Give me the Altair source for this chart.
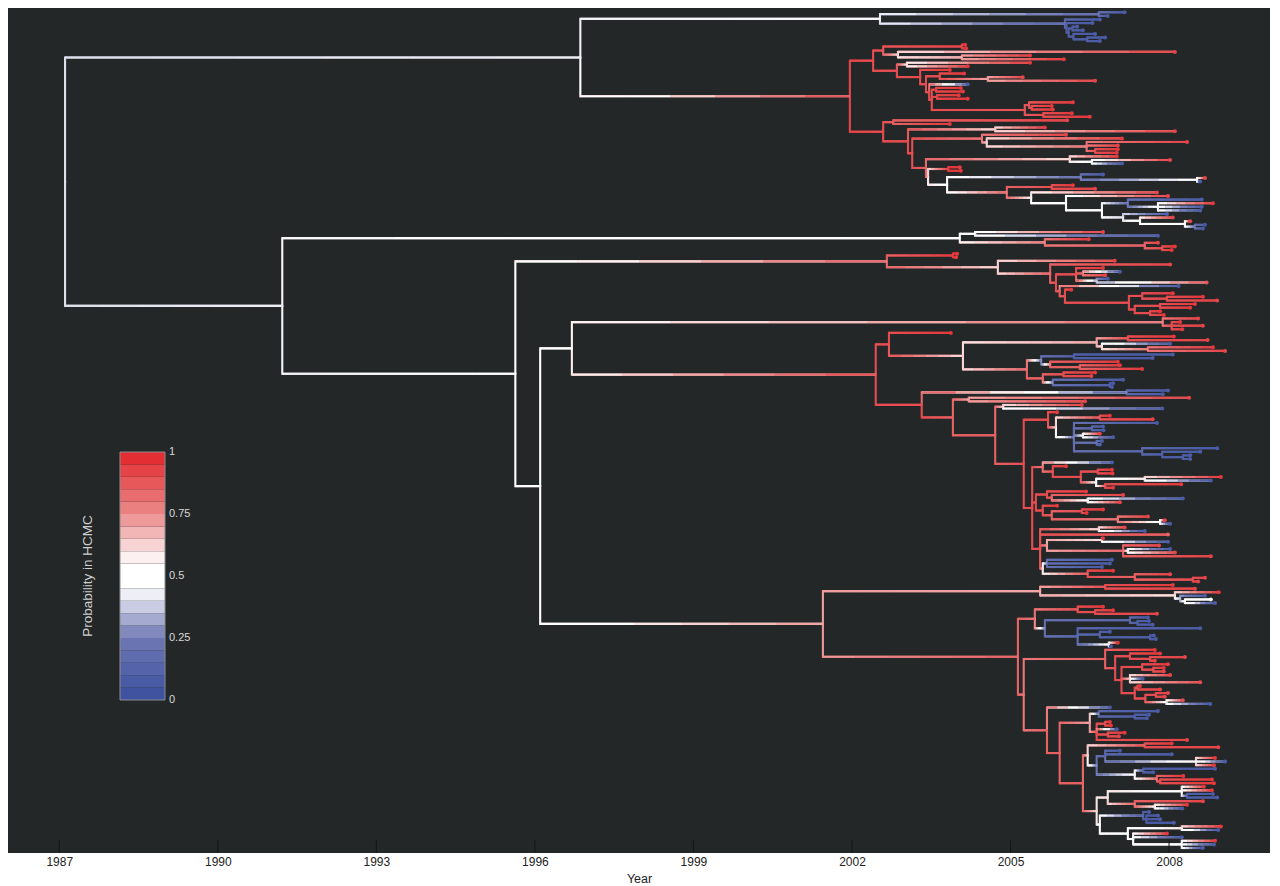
import re
import altair as alt
import pandas as pd

# ---------------- data: clades as "(children)time:prob" (time in years, prob = P(in HCMC)) ----------------
A1 = "((2007.16:0.08,2006.84:0.08)2006.67:0.2,(2006.69:0.08,(2006.55:0.08,((2006.26:0.08,2006.37:0.08)2006.17:0.1,(2006.60:0.08,(2006.79:0.08,2006.69:0.08)2006.45:0.1)2006.19:0.1)2006.10:0.1)2006.06:0.12)2006.03:0.15)2002.53:0.44"
A2A_1 = "((2004.14:0.95,2004.16:0.95)2004.08:0.92,(2008.11:0.92,(2005.37:0.95,2006.01:0.95)2004.08:0.7)2002.87:0.6)2002.59:0.88"
A2A_2 = "((2005.37:0.95,2004.19:0.95)2003.04:0.55,(2003.85:0.95,((2004.12:0.95,(2005.23:0.92,2006.60:0.92)2004.57:0.7)2003.66:0.9,(2004.19:0.08,((2004.06:0.95,2004.10:0.95)2003.59:0.92,(2004.02:0.95,2004.19:0.95)2003.61:0.92,((2006.18:0.95,(2005.78:0.95,2005.80:0.95)2005.40:0.9)2005.35:0.88,(2006.16:0.95,2006.50:0.95)2005.62:0.9)2005.27:0.88)2003.51:0.9)2003.46:0.9)2003.40:0.9)2003.29:0.9)2002.85:0.9"
A2B = "((2006.07:0.92,2003.85:0.95)2002.78:0.85,((2005.65:0.95,2008.11:0.92)2004.71:0.6,((2006.05:0.92,(2007.11:0.95,(2008.34:0.92,2007.03:0.92,(2007.03:0.95,2007.01:0.95)2006.60:0.9)2006.44:0.8)2004.55:0.6)2004.46:0.8,((2007.01:0.95,(2008.02:0.92,2007.11:0.08)2006.54:0.5)2006.12:0.6,((2004.04:0.95,2004.06:0.95)2003.82:0.95,((2006.75:0.08,(2008.68:0.92,2008.59:0.08)2008.53:0.5)2006.33:0.2,((2006.18:0.95,2006.60:0.92)2005.78:0.9,(2007.77:0.92,(2007.98:0.92,((2008.62:0.08,(2008.83:0.95,2008.62:0.08,2008.59:0.08)2007.79:0.5)2007.22:0.2,(2007.96:0.12,(2008.07:0.92,(2008.40:0.92,(2008.68:0.08,2008.64:0.08)2008.49:0.2)2008.30:0.5)2007.45:0.55)2007.13:0.4)2006.73:0.45)2006.05:0.5)2005.39:0.55)2004.93:0.85)2003.80:0.5)2003.44:0.6)2003.40:0.85)2003.14:0.9)2003.06:0.9)2002.59:0.9"
B1 = "((2006.75:0.92,2007.79:0.08)2004.33:0.5,(2006.48:0.95,(2007.79:0.92,(2008.11:0.95,2008.05:0.95)2007.87:0.9)2007.54:0.85)2005.65:0.8)2004.04:0.55"
B2A = "((2003.99:0.95,2003.97:0.95)2003.91:0.95,(2006.97:0.92,(2008.02:0.92,((2006.75:0.95,(2007.07:0.08,2006.79:0.92)2006.37:0.8,(2006.84:0.08,2008.71:0.88)2006.63:0.3)2006.24:0.9,(2008.18:0.08,(2006.15:0.95,((2008.07:0.95,(2008.64:0.95,2008.91:0.92)2007.96:0.9)2007.49:0.9,((2008.49:0.95,2008.40:0.95)2007.83:0.9,(2007.83:0.95,2007.90:0.95)2007.64:0.9)2007.35:0.9)2007.24:0.9)2006.03:0.9)2005.93:0.85)2005.86:0.9)2005.75:0.85)2004.76:0.6)2002.66:0.85"
B2B1_TOP = "(2008.55:0.92,(2008.21:0.95,2008.64:0.92,2008.25:0.95)2008.05:0.9)2007.88:0.8"
C1 = "(2003.87:0.95,(((2008.09:0.95,2008.73:0.92)2007.22:0.9,(2008.02:0.08,(2008.83:0.95,2009.06:0.92)2007.60:0.8)2006.73:0.6)2006.63:0.7,(((2008.07:0.08,2007.69:0.08)2006.20:0.1,(2007.03:0.95,(2007.07:0.95,2007.49:0.95)2006.31:0.85)2005.75:0.85)2005.58:0.2,((2006.60:0.95,2006.53:0.92)2006.00:0.9,(2007.13:0.08,(2006.94:0.08,2006.92:0.08)2006.88:0.1)2005.80:0.2)2005.61:0.85)2005.31:0.85)2004.10:0.6)2002.70:0.9"
D1 = "(2005.88:0.95,((2006.88:0.95,2007.69:0.92)2006.69:0.9,(2007.77:0.08,(2006.75:0.08,2006.76:0.08)2006.54:0.15,(2006.69:0.92,2006.94:0.08)2006.37:0.5,(2006.73:0.08,2006.69:0.12)2006.63:0.2,(2008.91:0.08,(2008.59:0.08,(2008.40:0.08,2008.40:0.08)2008.26:0.1)2007.87:0.1)2007.49:0.15)2006.20:0.2)2005.86:0.6)2005.71:0.9"
D2A = "(2006.92:0.08,(2006.05:0.95,((2006.92:0.95,2006.93:0.95)2006.65:0.9,((2008.98:0.95,2008.79:0.08)2007.54:0.6,(2008.23:0.95,2006.94:0.95)2006.79:0.9)2006.62:0.5)2006.33:0.9)2005.80:0.9)2005.61:0.8"
D2B = "((2006.43:0.95,(2007.13:0.92,(2008.26:0.08,2007.07:0.92)2006.46:0.5)2005.78:0.85)2005.69:0.9,(2005.88:0.95,((2006.75:0.95,2006.44:0.95)2006.35:0.9,(2007.60:0.92,(2007.92:0.92,2008.02:0.08)2007.83:0.5)2007.03:0.8)2005.78:0.85)2005.61:0.9)2005.48:0.9"
D2C = "((2007.16:0.92,2007.54:0.08)2006.67:0.6,2007.98:0.85,((2006.75:0.95,2007.98:0.08)2006.73:0.6,(2007.81:0.92,(2008.02:0.08,2008.11:0.92)2007.22:0.5,2008.79:0.92)2007.13:0.85)2005.69:0.7,((2006.92:0.08,2006.88:0.08,2006.73:0.08)2005.69:0.2,(2006.94:0.95,(2008.02:0.92,(2008.68:0.92,2008.55:0.92)2008.45:0.9)2007.35:0.85)2006.46:0.9)2005.61:0.55)2005.56:0.9"
E1 = "((2008.07:0.95,2008.49:0.92)2006.79:0.9,(2008.94:0.95,(2008.68:0.08,(2008.79:0.5,2008.87:0.08)2008.30:0.55)2008.21:0.3)2008.11:0.6)2005.56:0.7"
F1 = "((2006.75:0.95,(2006.94:0.95,2007.77:0.92)2006.60:0.9)2006.27:0.9,((2007.60:0.08,(2007.62:0.08,2007.69:0.08)2007.40:0.1)2007.26:0.15,(2008.59:0.08,(2006.88:0.08,(2007.71:0.08,2007.75:0.08)2007.64:0.1)2006.69:0.12,(2007.03:0.95,2006.90:0.08)2006.86:0.5)2006.27:0.15)2005.65:0.2)2005.46:0.8"
G1 = "(2007.73:0.95,((2007.83:0.95,(2008.30:0.92,2007.73:0.92)2007.64:0.9)2007.26:0.9,((2007.98:0.95,(2007.90:0.95,2007.90:0.92)2007.70:0.9)2007.49:0.9,(2008.02:0.92,2007.50:0.08,2008.59:0.9)2007.26:0.6,((2007.45:0.95,2007.83:0.92)2007.40:0.9,((2007.98:0.92,2007.92:0.92)2007.75:0.9,(2008.26:0.9,2008.78:0.08)2007.95:0.5)2007.55:0.9)2007.35:0.9)2007.10:0.9)2006.98:0.9)2006.79:0.85"
H1 = "((2007.79:0.08,(2007.62:0.08,2007.58:0.08)2007.35:0.1)2006.67:0.15,((2006.88:0.95,2006.90:0.95)2006.79:0.9,2007.01:0.08,(2007.16:0.95,2007.05:0.92)2006.84:0.9,2008.34:0.92)2006.63:0.9)2006.50:0.7"
H2A = "((2008.05:0.95,2008.93:0.92)2007.54:0.9,((2007.07:0.08,2008.05:0.08,(2008.87:0.95,2009.06:0.08,2008.85:0.95)2008.51:0.6)2006.79:0.15,((2008.87:0.08,2007.70:0.08)2007.51:0.1,(2008.27:0.95,(2008.81:0.95,2008.85:0.95)2007.83:0.9)2007.77:0.85)2007.35:0.5)2006.63:0.2)2006.46:0.6"
H2B = "(((2008.66:0.95,2008.81:0.95,(2008.83:0.08,2008.91:0.08)2008.34:0.1)2008.24:0.5,(2008.64:0.92,(2008.34:0.95,2008.25:0.08)2007.73:0.55)2007.35:0.85)2006.84:0.6,((2007.62:0.08,(2007.79:0.08,2007.83:0.08,2008.09:0.08)2007.57:0.08)2007.51:0.1,((2008.98:0.95,2008.93:0.08)2008.24:0.6,(2007.96:0.95,2008.24:0.08,(2008.87:0.95,2008.85:0.08,2008.64:0.08)2008.24:0.5)2007.32:0.5)2007.22:0.5)2006.69:0.5)2006.63:0.6"

# backbone joining the clades
A2A = f"({A2A_1},{A2A_2})2002.40:0.9"
A2 = f"({A2A},{A2B})2001.96:0.92"
A = f"({A1},{A2})1996.86:0.43"
C2 = f"((2007.98:0.08,2007.88:0.08)2007.20:0.15,((2008.38:0.92,2006.41:0.92)2004.21:0.7,((2006.35:0.92,2007.87:0.08)2004.86:0.6,({D1},({D2A},{D2B},{D2C})2005.41:0.9)2005.25:0.9)2004.71:0.85)2003.91:0.85)2003.32:0.9"
B2B1_BOTTOM = f"({C1},{C2})2002.45:0.9"
B2B1 = f"({B2B1_TOP},{B2B1_BOTTOM})1996.70:0.55"
G2 = f"(2006.88:0.08,({H1},({H2A},{H2B})2006.37:0.85)2005.93:0.85)2005.69:0.85"
E2 = f"({F1},({G1},{G2})2005.25:0.8)2005.14:0.85"
B2B2 = f"({E1},{E2})2001.45:0.72"
B2B = f"({B2B1},{B2B2})1996.10:0.5"
B2 = f"({B2A},{B2B})1995.63:0.47"
B = f"({B1},{B2})1991.22:0.43"
ROOT = f"({A},{B})1987.11:0.4"

YEAR_TICKS = [1987, 1990, 1993, 1996, 1999, 2002, 2005, 2008]
LEGEND_VALUES = [0, 0.25, 0.5, 0.75, 1]
LEGEND_LABELS = ["0", "0.25", "0.5", "0.75", "1"]
LEGEND_STEPS = 20
COLOR_STOPS = [0, 0.25, 0.45, 0.55, 0.75, 1]
COLOR_RANGE = ["#3a4f9f", "#6f78b4", "#ffffff", "#ffffff", "#ec8a8b", "#e2252a"]


# ---------------- parse and lay out the tree ----------------
def parse(s):
    pos = 0

    def node():
        nonlocal pos
        kids = []
        if s[pos] == "(":
            pos += 1
            kids.append(node())
            while s[pos] == ",":
                pos += 1
                kids.append(node())
            assert s[pos] == ")"
            pos += 1
        m = re.match(r"([0-9.]+):([0-9.]+)", s[pos:])
        pos += m.end()
        return {"t": float(m.group(1)), "p": float(m.group(2)), "c": kids}

    return node()


tree = parse(ROOT)
counter = [0]


def layout(n):
    if not n["c"]:
        n["y"] = counter[0]
        counter[0] += 1
    else:
        for c in n["c"]:
            layout(c)
        n["y"] = (n["c"][0]["y"] + n["c"][-1]["y"]) / 2


layout(tree)
NTIPS = counter[0]

K = 6
hrows, brows, vrows, trows = [], [], [], []


def walk(n, parent):
    if parent is not None:
        # whole branch underneath (hides the seams between gradient pieces)
        brows.append({"x": parent["t"], "x2": n["t"], "y": n["y"],
                      "p": (parent["p"] + n["p"]) / 2})
        for k in range(K):
            f0, f1 = k / K, (k + 1) / K
            hrows.append({
                "x": parent["t"] + f0 * (n["t"] - parent["t"]),
                "x2": parent["t"] + f1 * (n["t"] - parent["t"]),
                "y": n["y"],
                "p": parent["p"] + (f0 + f1) / 2 * (n["p"] - parent["p"]),
            })
    if n["c"]:
        for c in n["c"]:
            vrows.append({"x": n["t"], "y": n["y"], "y2": c["y"],
                          "p": n["p"] + (c["p"] - n["p"]) / (2 * K)})
            walk(c, n)
    else:
        trows.append({"x": n["t"], "y": n["y"], "p": n["p"]})


walk(tree, None)
hdf, bdf = pd.DataFrame(hrows), pd.DataFrame(brows)
vdf, tdf = pd.DataFrame(vrows), pd.DataFrame(trows)

# ---------------- chart ----------------
W, H = 1262, 845
TOP_PX, BOT_PX = 4.3, 840.0
span = (NTIPS - 1) * H / (BOT_PX - TOP_PX)
d0 = -TOP_PX * span / H
xs = alt.Scale(domain=[1986.03, 2009.91], nice=False, zero=False)
ys = alt.Scale(domain=[d0, d0 + span], reverse=True, nice=False, zero=False)
cs = alt.Scale(domain=COLOR_STOPS, range=COLOR_RANGE, interpolate="rgb")
ly = alt.Scale(domain=[0, 1], range=[692, 444], nice=False, zero=False)

xaxis = alt.Axis(values=YEAR_TICKS, format="d", title="Year", grid=False, domain=False, ticks=False,
                 labelFontSize=12, labelColor="#222", labelPadding=3, labelFont="Liberation Sans",
                 titleFontSize=12.5, titleFontWeight="normal", titleColor="#222", titlePadding=5,
                 titleFont="Liberation Sans")

LW = 2.1
vert = alt.Chart(vdf).mark_rule(strokeWidth=LW, strokeCap="square").encode(
    x=alt.X("x:Q", scale=xs, axis=xaxis),
    y=alt.Y("y:Q", scale=ys, axis=None), y2="y2:Q",
    color=alt.Color("p:Q", scale=cs, legend=None))
base = alt.Chart(bdf).mark_rule(strokeWidth=LW).encode(
    x=alt.X("x:Q", scale=xs, axis=xaxis), x2="x2:Q",
    y=alt.Y("y:Q", scale=ys, axis=None),
    color=alt.Color("p:Q", scale=cs, legend=None))
horiz = alt.Chart(hdf).mark_rule(strokeWidth=LW).encode(
    x=alt.X("x:Q", scale=xs, axis=xaxis), x2="x2:Q",
    y=alt.Y("y:Q", scale=ys, axis=None),
    color=alt.Color("p:Q", scale=cs, legend=None))
tipm = alt.Chart(tdf).mark_circle(size=16, opacity=1).encode(
    x=alt.X("x:Q", scale=xs, axis=xaxis),
    y=alt.Y("y:Q", scale=ys, axis=None),
    color=alt.Color("p:Q", scale=cs, legend=None))
ticks = alt.Chart(pd.DataFrame({"x": YEAR_TICKS})).mark_rule(color="#151617", strokeWidth=1).encode(
    x=alt.X("x:Q", scale=xs, axis=xaxis), y=alt.value(H - 13), y2=alt.value(H))

bands = pd.DataFrame({
    "lo": [i / LEGEND_STEPS for i in range(LEGEND_STEPS)],
    "hi": [(i + 1) / LEGEND_STEPS for i in range(LEGEND_STEPS)],
    "p": [(i + 0.5) / LEGEND_STEPS for i in range(LEGEND_STEPS)],
})
bar = alt.Chart(bands).mark_rect().encode(
    x=alt.value(112), x2=alt.value(157),
    y=alt.Y("lo:Q", scale=ly, axis=None), y2="hi:Q",
    color=alt.Color("p:Q", scale=cs, legend=None))
frame = alt.Chart(pd.DataFrame({"lo": [0], "hi": [1]})).mark_rect(
    fillOpacity=0, stroke="#8c8c8c", strokeWidth=1).encode(
    x=alt.value(112), x2=alt.value(157),
    y=alt.Y("lo:Q", scale=ly, axis=None), y2="hi:Q")
labs = alt.Chart(pd.DataFrame({"v": LEGEND_VALUES, "lab": LEGEND_LABELS})).mark_text(
    align="left", baseline="middle", fontSize=11, color="#d8d8d8", font="Liberation Sans").encode(
    x=alt.value(161), y=alt.Y("v:Q", scale=ly, axis=None), text="lab:N")
ttl = alt.Chart(pd.DataFrame({"t": ["Probability in HCMC"]})).mark_text(
    angle=270, align="center", baseline="middle", fontSize=13.5, color="#cfcfcf",
    font="Liberation Sans").encode(x=alt.value(80), y=alt.value(568), text="t:N")

chart = alt.layer(vert, base, horiz, tipm, ticks, bar, frame, labs, ttl).resolve_scale(
    y="independent").properties(
    width=W, height=H, background="white",
    padding={"left": 0, "top": 0, "right": 0, "bottom": 0}).configure_view(
    fill="#242728", stroke=None)

chart.save("out.html", embed_options={"renderer": "svg", "actions": False})
